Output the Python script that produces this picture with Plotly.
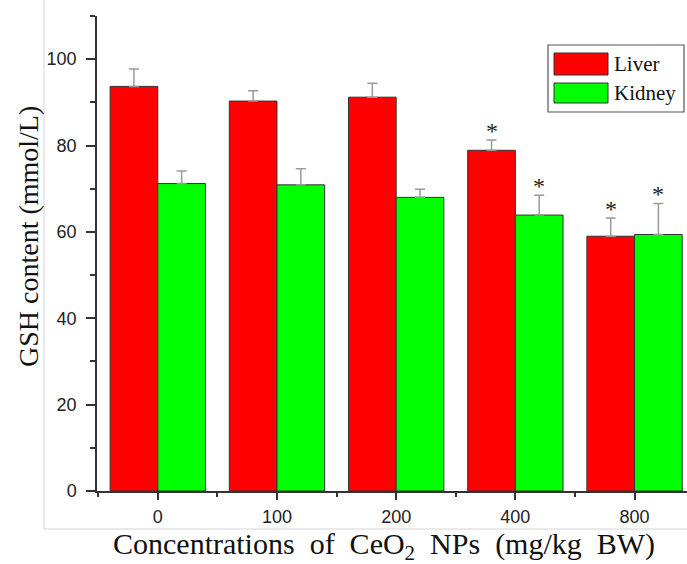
import plotly.graph_objects as go

# ---- data ----
categories = ["0", "100", "200", "400", "800"]
liver = [93.7, 90.3, 91.2, 78.9, 59.0]
liver_err = [4.0, 2.4, 3.2, 2.4, 4.2]
kidney = [71.2, 70.9, 68.0, 63.9, 59.4]
kidney_err = [2.9, 3.7, 1.9, 4.6, 7.2]
liver_sig = [False, False, False, True, True]
kidney_sig = [False, False, False, True, True]
series_names = ["Liver", "Kidney"]
series_colors = ["#FF0000", "#00FF00"]

# ---- layout constants ----
W, H = 687, 564
ML, MR, MT, MB = 97, 0, 16, 73
PW, PH = W - ML - MR, H - MT - MB


def px_x(px):
    return (px - ML) / PW


def px_y(py):
    return (H - MB - py) / PH


xpos = list(range(len(categories)))
bar_w = 0.4

fig = go.Figure()
for name, vals, errs, col in [
    (series_names[0], liver, liver_err, series_colors[0]),
    (series_names[1], kidney, kidney_err, series_colors[1]),
]:
    fig.add_trace(go.Bar(
        x=xpos, y=vals, name=name,
        marker=dict(color=col, line=dict(color="#333333", width=1)),
        error_y=dict(type="data", array=errs, arrayminus=[0] * len(errs),
                     symmetric=False, color="#9a9a9a", thickness=1.5, width=5),
        showlegend=False,
    ))

# significance stars
annotations = []
for i, x in enumerate(xpos):
    for off, vals, errs, sig in [(-bar_w / 2, liver, liver_err, liver_sig),
                                 (bar_w / 2, kidney, kidney_err, kidney_sig)]:
        if sig[i]:
            annotations.append(dict(
                x=x + off, y=vals[i] + errs[i], xref="x", yref="y",
                text="*", showarrow=False, yanchor="bottom",
                font=dict(family="Liberation Serif", size=24, color="#222222"),
                yshift=-6,
            ))

# axis titles as annotations
annotations.append(dict(
    x=px_x(28), y=px_y(237), xref="paper", yref="paper",
    text="GSH content (mmol/L)", textangle=-90, showarrow=False,
    font=dict(family="Liberation Serif", size=28, color="#111111"),
    xanchor="center", yanchor="middle",
))
sp = "\u00a0 "
annotations.append(dict(
    x=px_x(384), y=px_y(546), xref="paper", yref="paper",
    text=f"Concentrations{sp}of{sp}CeO<sub>2</sub>{sp}NPs{sp}(mg/kg{sp}BW)",
    showarrow=False,
    font=dict(family="Liberation Serif", size=30, color="#111111"),
    xanchor="center", yanchor="middle",
))

# custom legend
shapes = []
shapes.append(dict(type="rect", xref="paper", yref="paper",
                   x0=px_x(548), x1=px_x(684), y0=px_y(112), y1=px_y(45),
                   line=dict(color="#555555", width=1.2), fillcolor="white"))
leg_rows = [(53, 75), (83, 103)]
for (top, bot), name, col in zip(leg_rows, series_names, series_colors):
    shapes.append(dict(type="rect", xref="paper", yref="paper",
                       x0=px_x(554), x1=px_x(608), y0=px_y(bot), y1=px_y(top),
                       line=dict(color="#333333", width=1), fillcolor=col))
    annotations.append(dict(
        x=px_x(612), y=px_y((top + bot) / 2), xref="paper", yref="paper",
        text=name, showarrow=False, xanchor="left", yanchor="middle",
        font=dict(family="Liberation Serif", size=21, color="#111111"),
    ))

# faint frame lines of original image
shapes.append(dict(type="line", xref="paper", yref="paper",
                   x0=px_x(44), x1=px_x(44), y0=px_y(0), y1=px_y(529),
                   line=dict(color="#d4d4d4", width=1)))
shapes.append(dict(type="line", xref="paper", yref="paper",
                   x0=px_x(44), x1=px_x(W), y0=px_y(529), y1=px_y(529),
                   line=dict(color="#d4d4d4", width=1)))

tickfont = dict(family="Liberation Sans", size=18, color="#222222")

fig.update_layout(
    width=W, height=H,
    margin=dict(l=ML, r=MR, t=MT, b=MB),
    paper_bgcolor="white", plot_bgcolor="white",
    barmode="group", bargap=0.2, bargroupgap=0,
    annotations=annotations, shapes=shapes,
    showlegend=False,
)
fig.update_xaxes(
    range=[-0.51, 4.44],
    tickmode="array", tickvals=xpos, ticktext=categories,
    ticks="outside", ticklen=7, tickwidth=1.5, tickcolor="#333333",
    showline=True, linecolor="#333333", linewidth=1.5,
    showgrid=False, zeroline=False, tickfont=tickfont,
    minor=dict(tickmode="array", tickvals=[x - 0.5 for x in xpos] + [xpos[-1] + 0.5],
               ticks="outside", ticklen=4, tickwidth=1.5, tickcolor="#333333"),
    ticklabelstandoff=2,
)
fig.update_yaxes(
    range=[0, 110],
    tickmode="linear", tick0=0, dtick=20,
    ticks="outside", ticklen=9, tickwidth=1.5, tickcolor="#333333",
    showline=True, linecolor="#333333", linewidth=1.5,
    showgrid=False, zeroline=False, tickfont=tickfont,
    minor=dict(tickmode="linear", tick0=10, dtick=20,
               ticks="outside", ticklen=5, tickwidth=1.5, tickcolor="#333333"),
    ticklabelstandoff=6,
)

fig.write_html("out.html", config={"displayModeBar": False},
               post_script="document.body.style.margin='0';document.body.style.overflow='hidden';")
